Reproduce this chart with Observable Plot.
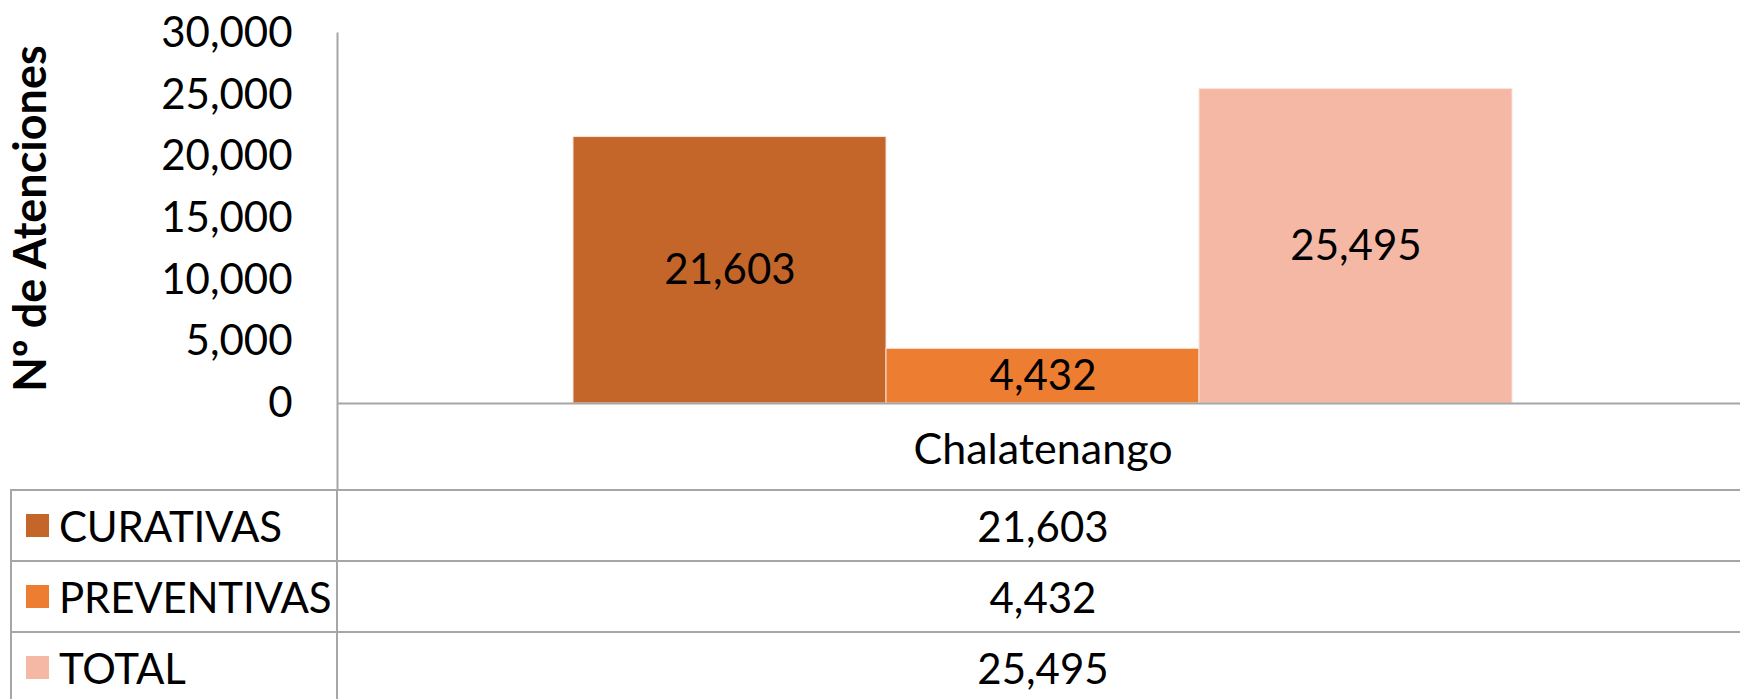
<!DOCTYPE html>
<html>
<head>
<meta charset="utf-8">
<script src="https://cdn.jsdelivr.net/npm/d3@7"></script>
<script src="https://cdn.jsdelivr.net/npm/@observablehq/plot@0.6"></script>
<style>
  html, body { margin: 0; padding: 0; background: #fff; overflow: hidden; }
  body { font-family: Lato, sans-serif; color: #000; width: 1740px; height: 699px; }
  #chart svg { display: block; }
  g[aria-label="y-axis label"] text { font-weight: bold; font-size: 45px; }
  .tbl { width: 1740px; }
  .row { display: flex; height: 71px; border-top: 2px solid #A6A6A6; margin-left: 10px; box-sizing: border-box; }
  .c1 { width: 328px; flex: none; box-sizing: border-box; border-left: 2px solid #A6A6A6; border-right: 2px solid #A6A6A6;
        display: flex; align-items: center; font-size: 42px; letter-spacing: -0.2px; }
  .sw { width: 23px; height: 23px; margin-left: 14px; margin-right: 10px; flex: none; }
  .c2 { width: 1410px; flex: none; display: flex; align-items: center; justify-content: center; font-size: 42px; }
</style>
</head>
<body>
<div id="chart"></div>
<div class="tbl" id="tbl"></div>
<script>
const region = ["Chalatenango"];
const series = ["CURATIVAS", "PREVENTIVAS", "TOTAL"];
const values = [21603, 4432, 25495];
const colors = ["#C46529", "#ED7D31", "#F4B8A5"];
const yTicks = [0, 5000, 10000, 15000, 20000, 25000, 30000];
const yLabel = "Nº de Atenciones";

const fmt = d3.format(",");
const data = series.map((s, i) => ({region: region[0], series: s, value: values[i]}));

const plot = Plot.plot({
  width: 1740,
  height: 489,
  marginTop: 33,
  marginBottom: 86,
  marginLeft: 337,
  marginRight: -8,
  style: {fontFamily: "Lato, sans-serif", fontSize: "42px", color: "#000", background: "#fff", overflow: "visible"},
  fx: {domain: region, padding: 0},
  x: {domain: series, paddingInner: 0, paddingOuter: 0.75, axis: null},
  y: {domain: [0, 30000]},
  color: {domain: series, range: colors},
  marks: [
    Plot.barY(data, {fx: "region", x: "series", y: "value", fill: "series", stroke: "#FBE3D9", strokeWidth: 1}),
    Plot.ruleY([0], {stroke: "#A6A6A6", strokeWidth: 2}),
    Plot.frame({anchor: "left", stroke: "#A6A6A6", strokeWidth: 2, insetBottom: -86}),
    Plot.axisY({ticks: yTicks, tickFormat: fmt, tickSize: 0, tickPadding: 45, label: yLabel,
                labelAnchor: "center", labelOffset: 323, labelArrow: "none", fontSize: 42}),
    Plot.axisFx({anchor: "bottom", tickSize: 0, tickPadding: 30, label: null, fontSize: 43}),
    Plot.text(data, {fx: "region", x: "series", y: d => d.value / 2, text: d => fmt(d.value), fontSize: 42, fill: "#000"})
  ]
});
document.getElementById("chart").appendChild(plot);

const tbl = document.getElementById("tbl");
series.forEach((s, i) => {
  const row = document.createElement("div");
  row.className = "row";
  const c1 = document.createElement("div");
  c1.className = "c1";
  const sw = document.createElement("span");
  sw.className = "sw";
  sw.style.background = colors[i];
  c1.appendChild(sw);
  c1.appendChild(document.createTextNode(s));
  const c2 = document.createElement("div");
  c2.className = "c2";
  c2.textContent = fmt(values[i]);
  row.appendChild(c1);
  row.appendChild(c2);
  tbl.appendChild(row);
});
</script>
</body>
</html>
